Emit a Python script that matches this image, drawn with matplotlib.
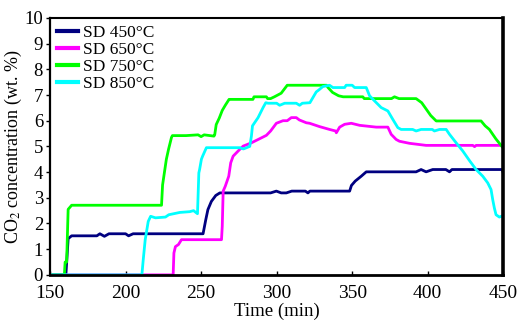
import matplotlib.pyplot as plt

plt.rcParams['font.family'] = ['Liberation Serif', 'DejaVu Serif']
plt.rcParams['mathtext.fontset'] = 'stix'

# SD 450 °C
t450 = [150, 160.5, 161, 162, 164.3, 181, 183, 186, 189, 192, 200, 202, 205,
        251.3, 253.1, 254.5, 256.8, 259.7, 262.4, 296, 299.8, 303, 306.4, 310,
        319, 320.7, 322, 348.3, 349.5, 352, 356, 359.3, 392.3, 395.6, 398.9,
        403.3, 412, 414.4, 416, 449.3, 450]
v450 = [0, 0, 0.46, 1.41, 1.52, 1.52, 1.6, 1.5, 1.6, 1.6, 1.6, 1.52, 1.6,
        1.6, 2.15, 2.54, 2.86, 3.09, 3.19, 3.19, 3.26, 3.19, 3.19, 3.26,
        3.26, 3.19, 3.26, 3.26, 3.48, 3.65, 3.84, 4.01, 4.01, 4.1, 4.01,
        4.1, 4.1, 4.01, 4.1, 4.1, 3.97]

# SD 650 °C
t650 = [150, 231.5, 232, 233, 235, 237, 263.5, 264, 264.6, 266, 268.3, 269.6,
        271.2, 274.5, 277.8, 283.3, 288.8, 293.2, 296, 299.8, 304.2, 307,
        309.7, 313, 315, 319.6, 321.8, 328.4, 335, 339, 339.5, 341.7, 345,
        349.4, 354.9, 365.9, 373.6, 375.8, 379.1, 381.3, 387.9, 398.9,
        429.8, 431, 432, 450]
v650 = [0, 0, 0.85, 1.1, 1.18, 1.37, 1.37, 1.89, 3.26, 3.45, 3.84, 4.36,
        4.62, 4.82, 5.01, 5.14, 5.3, 5.43, 5.6, 5.9, 6.0, 6.0,
        6.12, 6.12, 6.03, 5.92, 5.9, 5.77, 5.66, 5.6, 5.53, 5.75, 5.86,
        5.9, 5.82, 5.75, 5.75, 5.47, 5.27, 5.2, 5.12, 5.04,
        5.04, 4.99, 5.04, 5.04]

# SD 750 °C
t750 = [150, 159.5, 160, 161, 162, 164.3, 223.8, 224.5, 226, 227, 228.5,
        230.4, 231, 240, 248, 250, 252, 258.5, 259, 260, 262, 264, 266,
        268.5, 269, 284.3, 285, 293.2, 294, 296, 298.5, 303, 307, 333,
        334, 337, 341, 344, 357, 358, 370.3, 376, 378, 381, 392.3, 396,
        399, 402, 405.6, 435.3, 438, 440.8, 445, 449.6]
v750 = [0, 0, 0.5, 0.5, 2.55, 2.71, 2.71, 3.5, 4.1, 4.5, 4.9,
        5.35, 5.42, 5.42, 5.45, 5.38, 5.45, 5.4, 5.45, 5.85, 6.1, 6.4, 6.6,
        6.83, 6.83, 6.83, 6.93, 6.93, 6.86, 6.86, 6.93, 7.07, 7.38, 7.38,
        7.29, 7.1, 6.97, 6.93, 6.93, 6.86, 6.86, 6.86, 6.93, 6.86, 6.86, 6.7,
        6.45, 6.2, 5.99, 5.99, 5.8, 5.66, 5.3, 4.96]

# SD 850 °C
t850 = [150, 210.8, 211.7, 213, 215, 216.6, 219.8, 226.4, 228.6, 235.9,
        242.5, 245, 247.6, 248.5, 249, 250.2, 251, 253.5, 275.6, 278,
        282.2, 283.3, 284, 287.7, 291, 292.8, 294.3, 300, 302, 305.3, 313,
        315.2, 317, 322, 324, 326.2, 328, 330.6, 335, 337.2, 345, 346,
        350, 351.6, 359.3, 361.5, 364.8, 369.2, 373.6, 376.9, 380.2, 382.4,
        390, 392.3, 395.6, 403, 404.4, 407.8, 412.2, 414.4, 418.8, 423.2,
        427.6, 432, 436.4, 439.7, 441.9, 443, 444.1, 445.2, 447.4, 449.6]
v850 = [0, 0, 0.59, 1.37, 2.08, 2.28, 2.22, 2.25, 2.34, 2.43,
        2.46, 2.5, 2.38, 3.97, 4.1, 4.5, 4.62, 4.95, 4.95, 4.9,
        5.0, 5.4, 5.8, 6.12, 6.51, 6.7, 6.68, 6.68, 6.6, 6.68, 6.68,
        6.6, 6.68, 6.7, 6.9, 7.12, 7.2, 7.33, 7.38, 7.29, 7.29, 7.38,
        7.38, 7.29, 7.29, 6.97, 6.77, 6.51, 6.38, 6.05, 5.73, 5.66,
        5.66, 5.6, 5.66, 5.66, 5.6, 5.66, 5.66, 5.47, 5.14, 4.82,
        4.45, 4.1, 3.84, 3.58, 3.32, 2.93, 2.6, 2.34, 2.25, 2.3]

labels = ['SD 450°C', 'SD 650°C', 'SD 750°C', 'SD 850°C']
colors = ['#000080', '#ff00ff', '#00ff00', '#00ffff']
xticks = [150, 200, 250, 300, 350, 400, 450]
yticks = list(range(0, 11))

fig = plt.figure(figsize=(5.21, 3.2), dpi=100)
ax = fig.add_axes([0.096, 0.141, 0.870, 0.803])

for t, v, lab, c in zip([t450, t650, t750, t850], [v450, v650, v750, v850], labels, colors):
    ax.plot(t, v, color=c, linewidth=2, label=lab, zorder=2)

ax.set_xlim(150, 450)
ax.set_ylim(0, 10)
ax.set_xticks(xticks)
ax.set_yticks(yticks)
ax.tick_params(axis='x', direction='in', length=3, width=1, labelsize=14, pad=7)
ax.tick_params(axis='y', direction='out', length=3, width=1, labelsize=13.5, pad=2)

ax.spines['left'].set_linewidth(1.6)
ax.spines['bottom'].set_linewidth(2)
ax.spines['top'].set_linewidth(1.5)
ax.spines['right'].set_linewidth(2.6)
for s in ax.spines.values():
    s.set_zorder(3)

ax.set_xlabel('Time (min)', fontsize=13.5)
ax.set_ylabel('CO$_2$ concentration (wt. %)', fontsize=13)
ax.xaxis.set_label_coords(0.5, -0.11)
ax.yaxis.set_label_coords(-0.057, 0.5)

leg = ax.legend(loc='upper left', frameon=False, fontsize=12.5, handlelength=1.2,
                handletextpad=0.3, labelspacing=0.05, borderaxespad=0.3,
                borderpad=0.1)
for h in leg.get_lines():
    h.set_linewidth(3)

fig.savefig('out.png', dpi=100)
